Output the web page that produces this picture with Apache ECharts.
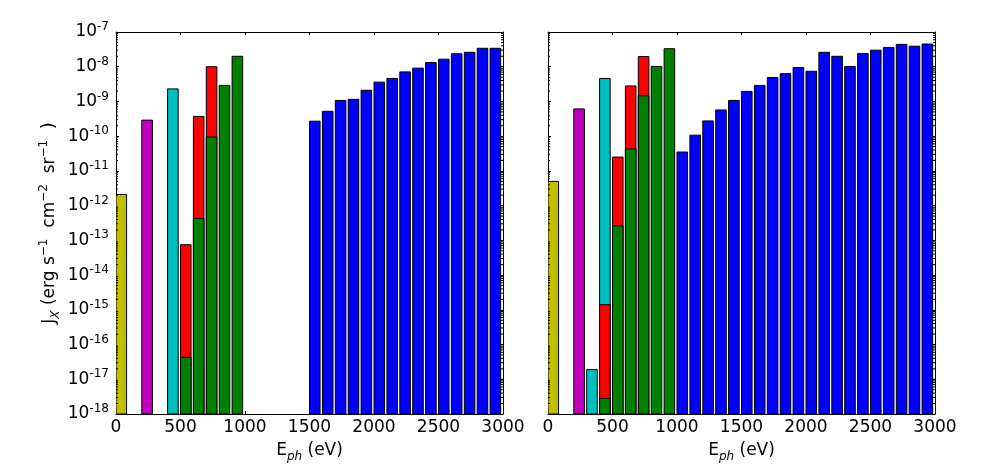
<!DOCTYPE html>
<html><head><meta charset="utf-8">
<script src="https://cdn.jsdelivr.net/npm/echarts@6/dist/echarts.min.js"></script>
<style>html,body{margin:0;padding:0;background:#fff}#c{width:994px;height:472px}</style>
</head><body><div id="c"></div>
<script>
// ---- axes ----
const xMin = 0, xMax = 3000, xStep = 500;
const yMin = 1e-18, yMax = 1e-7;
const yTickExponents = [-18,-17,-16,-15,-14,-13,-12,-11,-10,-9,-8,-7];
const minorMultipliers = [2,3,4,5,6,7,8,9];

// ---- left panel (bar left edges in eV, J_X values) ----
const leftYellowE = [0],   leftYellowJ = [2.1e-12];
const leftMagentaE = [200], leftMagentaJ = [2.9e-10];
const leftCyanE = [400],   leftCyanJ = [2.3e-9];
const leftRedE = [500, 600, 700],   leftRedJ = [7.5e-14, 3.7e-10, 1.0e-8];
const leftGreenE = [500, 600, 700, 800, 900];
const leftGreenJ = [4.3e-17, 4.3e-13, 9.5e-11, 2.9e-9, 2.0e-8];
const leftBlueE = [1500,1600,1700,1800,1900,2000,2100,2200,2300,2400,2500,2600,2700,2800,2900];
const leftBlueJ = [2.7e-10,5.2e-10,1.07e-9,1.15e-9,2.1e-9,3.6e-9,4.6e-9,7.1e-9,9.1e-9,1.32e-8,1.65e-8,2.36e-8,2.6e-8,3.4e-8,3.4e-8];

// ---- right panel ----
const rightYellowE = [0],   rightYellowJ = [5.0e-12];
const rightMagentaE = [200], rightMagentaJ = [6.1e-10];
const rightCyanE = [300, 400], rightCyanJ = [1.9e-17, 4.6e-9];
const rightRedE = [400, 500, 600, 700], rightRedJ = [1.4e-15, 2.5e-11, 2.8e-9, 1.96e-8];
const rightGreenE = [400, 500, 600, 700, 800, 900];
const rightGreenJ = [2.8e-18, 2.6e-13, 4.3e-11, 1.45e-9, 1.02e-8, 3.3e-8];
const rightBlueE = [1000,1100,1200,1300,1400,1500,1600,1700,1800,1900,2000,2100,2200,2300,2400,2500,2600,2700,2800,2900];
const rightBlueJ = [3.5e-11,1.07e-10,2.75e-10,5.7e-10,1.07e-9,1.95e-9,2.9e-9,4.9e-9,6.3e-9,9.5e-9,7.4e-9,2.6e-8,2.0e-8,1.02e-8,2.4e-8,3.0e-8,3.6e-8,4.4e-8,3.9e-8,4.5e-8];

const BAR_W = 82;
const COL = {y:'#bfbf00', m:'#bf00bf', c:'#00bfbf', r:'#ff0000', g:'#008000', b:'#0000ff'};
const FONT = 'DejaVu Sans';

const minorTickValues = [];
yTickExponents.slice(0, -1).forEach(e => minorMultipliers.forEach(k => minorTickValues.push(k * Math.pow(10, e))));

function barSeries(g, E, J, color) {
  return {
    type: 'custom', xAxisIndex: g*2, yAxisIndex: g*2, clip: true, z: 2,
    data: E.map((e, i) => [e, J[i]]),
    renderItem(params, api) {
      const e = api.value(0), v = api.value(1);
      const p0 = api.coord([e, yMin]);
      const p1 = api.coord([e + BAR_W, v]);
      return { type: 'rect',
        shape: { x: p0[0], y: p1[1], width: p1[0] - p0[0], height: p0[1] - p1[1] },
        style: { fill: color, stroke: '#000', lineWidth: 1 } };
    }
  };
}
function minorSeries(g) {
  return {
    type: 'custom', xAxisIndex: g*2, yAxisIndex: g*2, clip: false, z: 5, silent: true,
    data: minorTickValues.map(v => [xMin, v]),
    renderItem(params, api) {
      const v = api.value(1);
      const a = api.coord([xMin, v]), b = api.coord([xMax, v]);
      return { type: 'group', children: [
        { type: 'line', shape: { x1: a[0], y1: a[1], x2: a[0] + 2, y2: a[1] }, style: { stroke: '#000', lineWidth: 1 } },
        { type: 'line', shape: { x1: b[0], y1: b[1], x2: b[0] - 2, y2: b[1] }, style: { stroke: '#000', lineWidth: 1 } }
      ]};
    }
  };
}

const baseRich = {
  t: { fontSize: 17, fontFamily: FONT, color: '#000', lineHeight: 24 },
  b: { fontSize: 17, fontFamily: FONT, color: '#000', lineHeight: 22 },
  s: { fontSize: 12, fontFamily: FONT, color: '#000', verticalAlign: 'top', lineHeight: 14 },
  sup: { fontSize: 12, fontFamily: FONT, color: '#000', verticalAlign: 'top', lineHeight: 14 },
  sub: { fontSize: 12, fontFamily: FONT, color: '#000', fontStyle: 'italic', verticalAlign: 'bottom', lineHeight: 12 }
};
const axisLine = { show: true, onZero: false, lineStyle: { color: '#000', width: 1 } };

function xAxes(g) {
  return [
    { type: 'value', gridIndex: g, min: xMin, max: xMax, interval: xStep, position: 'bottom',
      axisLine, splitLine: { show: false },
      axisTick: { inside: true, length: 3, lineStyle: { color: '#000' } },
      axisLabel: { fontSize: 17, fontFamily: FONT, color: '#000', margin: 5, formatter: v => String(v) },
      name: '{t|E}{sub|ph}{t| (eV)}', nameLocation: 'middle', nameGap: 25,
      nameTextStyle: { rich: baseRich } },
    { type: 'value', gridIndex: g, min: xMin, max: xMax, interval: xStep, position: 'top',
      axisLine, splitLine: { show: false },
      axisTick: { inside: true, length: 3, lineStyle: { color: '#000' } },
      axisLabel: { show: false } }
  ];
}
function yAxes(g, showLabels) {
  const common = { type: 'log', logBase: 10, gridIndex: g, min: yMin, max: yMax, interval: 1,
    axisLine, splitLine: { show: false },
    axisTick: { inside: true, length: 3, lineStyle: { color: '#000' } } };
  const left = Object.assign({}, common, { position: 'left',
    axisLabel: { show: showLabels, margin: 7,
      formatter: v => '{b|10}{s|' + Math.round(Math.log10(v)) + '}', rich: baseRich } });
  if (showLabels) {
    Object.assign(left, {
      name: '{t|J}{sub|X}{t| (erg s}{sup|−1}{t|  cm}{sup|−2}{t|  sr}{sup|−1}{t|  )}',
      nameLocation: 'middle', nameGap: 54, nameRotate: 90,
      nameTextStyle: { rich: baseRich } });
  }
  const right = Object.assign({}, common, { position: 'right', axisLabel: { show: false } });
  return [left, right];
}

const chart = echarts.init(document.getElementById('c'), null, { renderer: 'canvas' });
chart.setOption({
  animation: false,
  backgroundColor: '#fff',
  grid: [
    { left: 116, top: 32, width: 387, height: 382 },
    { left: 548, top: 32, width: 387, height: 382 }
  ],
  xAxis: [...xAxes(0), ...xAxes(1)],
  yAxis: [...yAxes(0, true), ...yAxes(1, false)],
  series: [
    barSeries(0, leftYellowE, leftYellowJ, COL.y),
    barSeries(0, leftMagentaE, leftMagentaJ, COL.m),
    barSeries(0, leftCyanE, leftCyanJ, COL.c),
    barSeries(0, leftRedE, leftRedJ, COL.r),
    barSeries(0, leftGreenE, leftGreenJ, COL.g),
    barSeries(0, leftBlueE, leftBlueJ, COL.b),
    barSeries(1, rightYellowE, rightYellowJ, COL.y),
    barSeries(1, rightMagentaE, rightMagentaJ, COL.m),
    barSeries(1, rightCyanE, rightCyanJ, COL.c),
    barSeries(1, rightRedE, rightRedJ, COL.r),
    barSeries(1, rightGreenE, rightGreenJ, COL.g),
    barSeries(1, rightBlueE, rightBlueJ, COL.b),
    minorSeries(0),
    minorSeries(1)
  ]
});
</script></body></html>
